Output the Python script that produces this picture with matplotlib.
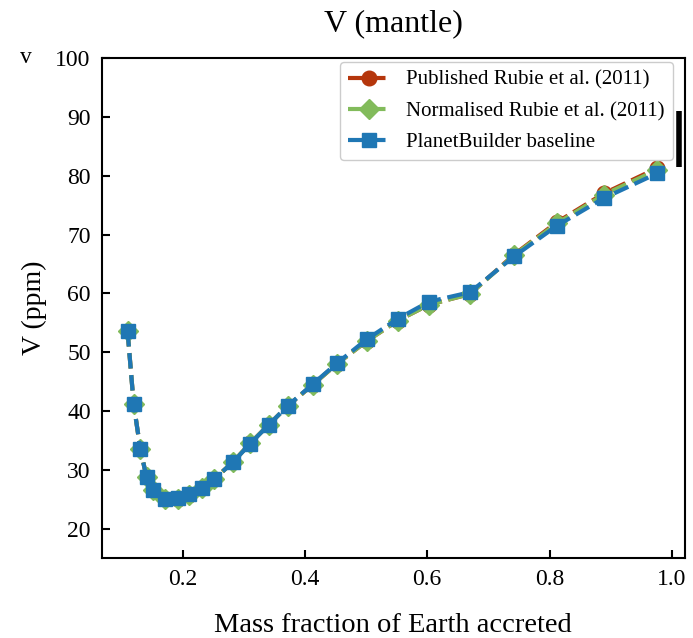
import numpy as np
import matplotlib
matplotlib.use('Agg')
import matplotlib.pyplot as plt
import matplotlib.transforms as mtransforms

plt.rcParams['font.family'] = ['Liberation Serif', 'DejaVu Serif']
plt.rcParams['mathtext.fontset'] = 'stix'

# mass fraction of Earth accreted
mass_frac = [0.110, 0.120, 0.131, 0.141, 0.151, 0.172, 0.192, 0.211, 0.231, 0.251,
             0.282, 0.311, 0.341, 0.372, 0.413, 0.452, 0.501, 0.552, 0.603, 0.670,
             0.742, 0.812, 0.889, 0.976]
baseline = [53.6, 41.2, 33.5, 28.8, 26.6, 25.0, 25.2, 26.0, 27.0, 28.4,
            31.3, 34.5, 37.7, 40.9, 44.6, 48.1, 52.2, 55.7, 58.6, 60.2,
            66.3, 71.5, 76.2, 80.4]
normalised = [53.6, 41.2, 33.5, 28.8, 26.6, 25.0, 25.0, 25.8, 26.9, 28.4,
              31.3, 34.6, 37.7, 40.9, 44.5, 48.0, 51.9, 55.4, 58.1, 59.9,
              66.5, 71.9, 76.8, 81.0]
published = [53.6, 41.2, 33.5, 28.8, 26.6, 25.0, 25.0, 25.8, 26.9, 28.4,
             31.3, 34.6, 37.7, 40.9, 44.5, 48.0, 51.9, 55.4, 58.1, 59.9,
             66.6, 72.1, 77.0, 81.3]
obs_range = [81.5, 91.0]  # observed mantle V range (bar at right edge)

fig = plt.figure(figsize=(6.93, 6.38), dpi=100)
ax = fig.add_axes([0.147, 0.125, 0.841, 0.784])

ax.plot(mass_frac, published, '--', color='#b5360c', lw=3, marker='o', ms=10.5,
        label='Published Rubie et al. (2011)')
ax.plot(mass_frac, normalised, '--', color='#82bb5b', lw=3, marker='D', ms=10.5,
        label='Normalised Rubie et al. (2011)')
ax.plot(mass_frac, baseline, '--', color='#1f77b4', lw=3, marker='s', ms=10.5,
        label='PlanetBuilder baseline')

trans = mtransforms.blended_transform_factory(ax.transAxes, ax.transData)
ax.plot([0.9905, 0.9905], obs_range, color='k', lw=4, transform=trans,
        solid_capstyle='butt')

ax.set_xlim(0.068, 1.021)
ax.set_ylim(15, 100)
ax.set_yticks(np.arange(20, 101, 10))
ax.set_xticks([0.2, 0.4, 0.6, 0.8, 1.0])
ax.tick_params(direction='in', length=6, width=1.5, labelsize=17, pad=8)
for s in ax.spines.values():
    s.set_linewidth(1.5)

ax.set_title('V (mantle)', fontsize=23, pad=19)
ax.set_ylabel('V (ppm)', fontsize=20, labelpad=6)
ax.set_xlabel('Mass fraction of Earth accreted', fontsize=20.5, labelpad=16)
fig.text(0.029, 0.91, 'v', fontsize=17, va='center')

ax.legend(loc='upper right', fontsize=15, handlelength=2, framealpha=1,
          borderaxespad=0, bbox_to_anchor=(0.98, 0.992), labelspacing=0.55)

fig.savefig('out.png', dpi=100)
